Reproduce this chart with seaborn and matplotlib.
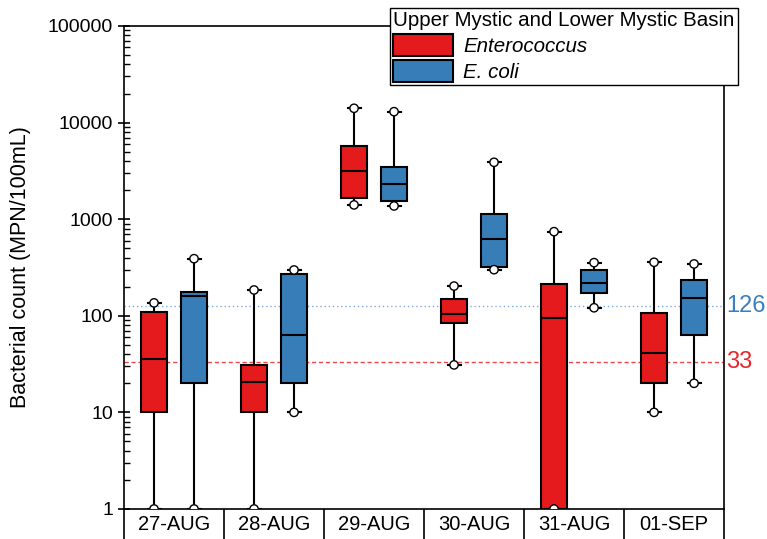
import pandas as pd
import numpy as np
import matplotlib
matplotlib.use("Agg")
import matplotlib.pyplot as plt
import matplotlib.transforms as mtransforms
from matplotlib.patches import Patch
import seaborn as sns

# five-number summaries: min, q1, median, q3, max
dates = ["27-AUG", "28-AUG", "29-AUG", "30-AUG", "31-AUG", "01-SEP"]
species = ["Enterococcus", "E. coli"]
entero = [
    [1, 10, 36, 109, 136],
    [1, 10, 20.6, 31, 185],
    [1405, 1670, 3170, 5770, 14060],
    [31, 85, 104, 148, 203],
    [1, 1, 94, 215, 743],
    [10, 20, 41, 108, 358],
]
ecoli = [
    [1, 20, 161, 176, 390],
    [10, 20, 63, 271, 298],
    [1370, 1543, 2310, 3440, 12970],
    [300, 320, 620, 1124, 3880],
    [121, 174, 219, 298, 355],
    [20, 63, 154, 233, 344],
]
limits = [126, 33]
limit_colors = ["#3A7EC0", "#E8262A"]
palette = {"Enterococcus": "#E41A1C", "E. coli": "#377EB8"}

rows = []
for i, d in enumerate(dates):
    for sp, vals in zip(species, [entero[i], ecoli[i]]):
        for v in vals:
            rows.append({"date": d, "species": sp, "count": v})
df = pd.DataFrame(rows)

ends = df.groupby(["date", "species"], sort=False)["count"].agg(["min", "max"]).reset_index()
ends = ends.melt(id_vars=["date", "species"], value_name="count")

plt.rcParams["font.family"] = ["Liberation Sans", "DejaVu Sans"]
fig, ax = plt.subplots(figsize=(7.67, 5.39), dpi=100)
fig.subplots_adjust(left=0.1617, right=0.944, bottom=0.0557, top=0.9518)

sns.boxplot(data=df, x="date", y="count", hue="species", order=dates, hue_order=species,
            palette=palette, saturation=1, whis=(0, 100), gap=0.35, linewidth=1.5,
            linecolor="black", log_scale=True, legend=False, ax=ax)
# short caps at whisker ends, then the open circles on top
sns.stripplot(data=ends, x="date", y="count", hue="species", order=dates, hue_order=species,
              palette={s: "black" for s in species}, dodge=True, jitter=False, marker="_",
              size=9, linewidth=1.5, legend=False, ax=ax, zorder=4)
sns.stripplot(data=ends, x="date", y="count", hue="species", order=dates, hue_order=species,
              palette={s: "white" for s in species}, dodge=True, jitter=False, size=6,
              edgecolor="black", linewidth=1, legend=False, ax=ax, zorder=5)

# reference lines
ax.axhline(limits[0], color="#7FAADD", ls=(0, (1, 2)), lw=1, zorder=0.5)
ax.axhline(limits[1], color="#F04848", ls=(0, (3, 2)), lw=1, zorder=0.5)
trans = mtransforms.blended_transform_factory(ax.transAxes, ax.transData)
for val, col in zip(limits, limit_colors):
    ax.text(1.004, val, str(val), color=col, fontsize=17, ha="left", va="center",
            transform=trans)

ax.set_ylim(1, 100000)
ax.set_yticks([1, 10, 100, 1000, 10000, 100000])
ax.set_yticklabels(["1", "10", "100", "1000", "10000", "100000"])
ax.yaxis.set_minor_locator(matplotlib.ticker.LogLocator(base=10, subs=np.arange(2, 10)))
ax.yaxis.set_minor_formatter(matplotlib.ticker.NullFormatter())
ax.tick_params(axis="y", which="major", direction="inout", length=9, width=1.2, labelsize=14)
ax.tick_params(axis="y", which="minor", direction="in", length=4, width=1)

ax.set_xlim(-0.5, len(dates) - 0.5)
ax.set_xticks(np.arange(-0.5, len(dates)), minor=True)
ax.tick_params(axis="x", which="major", length=0, labelsize=14.5, pad=4)
ax.tick_params(axis="x", which="minor", direction="out", length=22, width=1.2)
ax.set_xlabel("")
ax.set_ylabel("Bacterial count (MPN/100mL)", fontsize=15.5, labelpad=12)

for sp in ax.spines.values():
    sp.set_linewidth(1.2)
    sp.set_color("black")

handles = [Patch(facecolor=palette[s], edgecolor="black", linewidth=1.5) for s in species]
leg = fig.legend(handles, species, title="Upper Mystic and Lower Mystic Basin",
                 loc="upper right", bbox_to_anchor=(0.962, 0.985), fontsize=14.8,
                 title_fontsize=14.8, alignment="left", fancybox=False, framealpha=1,
                 edgecolor="black", handlelength=2.9, handleheight=1.25,
                 borderpad=0.15, labelspacing=0.2, handletextpad=0.5, borderaxespad=0)
for t in leg.get_texts():
    t.set_fontstyle("italic")

fig.savefig("out.png", dpi=100)
